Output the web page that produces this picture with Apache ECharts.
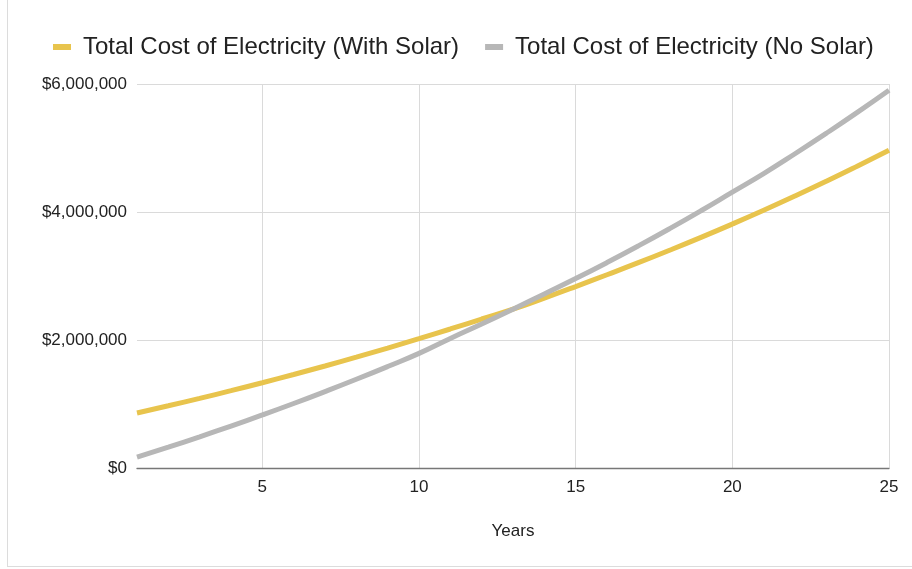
<!DOCTYPE html>
<html>
<head>
<meta charset="utf-8">
<script src="https://cdn.jsdelivr.net/npm/echarts@6/dist/echarts.min.js"></script>
<style>
    html, body { margin: 0; padding: 0; background: #fff; }
    #frame {
        position: absolute; left: 7px; top: -2px; width: 920px; height: 568px;
        border-left: 1px solid #dcdcdc; border-bottom: 1px solid #dcdcdc;
    }
    #chart { position: absolute; left: 0; top: 0; width: 912px; height: 569px; }
</style>
</head>
<body>
<div id="frame"></div>
<div id="chart"></div>
<script>
    // values, in dollars
    const years = [1, 2, 3, 4, 5, 6, 7, 8, 9, 10, 11, 12, 13, 14, 15, 16, 17, 18, 19, 20, 21, 22, 23, 24, 25];
    const withSolar = [860000, 972000, 1088000, 1208000, 1332000, 1461000, 1594000, 1731000, 1874000, 2021000,
        2172000, 2328000, 2482000, 2655000, 2835000, 3020000, 3208000, 3403000, 3604000, 3812000,
        4027000, 4250000, 4481000, 4720000, 4965000];
    const noSolar = [170000, 326000, 488000, 656000, 829000, 1008000, 1194000, 1386000, 1585000, 1791000,
        2025000, 2250000, 2482000, 2720000, 2960000, 3210000, 3470000, 3740000, 4020000, 4310000,
        4600000, 4910000, 5230000, 5560000, 5902000];
    const xTicks = [5, 10, 15, 20, 25];
    const seriesNames = ['Total Cost of Electricity (With Solar)', 'Total Cost of Electricity (No Solar)'];

    const font = '"Liberation Sans", Arial, sans-serif';
    const money = v => '$' + v.toLocaleString('en-US');

    let option = {
        animation: false,
        color: ['#e8c44d', '#b7b7b7'],
        textStyle: { fontFamily: font },
        legend: {
            top: 30,
            left: 48,
            itemWidth: 18,
            itemHeight: 6,
            itemGap: 26,
            icon: 'rect',
            textStyle: { fontSize: 24, color: '#222', fontFamily: font, padding: [0, 0, 0, 7] },
            data: seriesNames
        },
        grid: { left: 137, right: 23, top: 84, bottom: 101 },
        xAxis: {
            type: 'value',
            min: 1,
            max: 25,
            name: 'Years',
            nameLocation: 'middle',
            nameGap: 55,
            nameTextStyle: { fontSize: 17, color: '#222' },
            axisLine: { show: true, onZero: false, lineStyle: { color: '#777', width: 1.3 } },
            axisTick: { show: false, customValues: xTicks },
            axisLabel: { customValues: xTicks, fontSize: 17, color: '#222', margin: 11 },
            splitLine: { show: true, lineStyle: { color: '#dadada', width: 1 } }
        },
        yAxis: {
            type: 'value',
            min: 0,
            max: 6000000,
            interval: 2000000,
            axisLine: { show: false },
            axisTick: { show: false },
            axisLabel: { fontSize: 17, color: '#222', margin: 10, formatter: money },
            splitLine: { lineStyle: { color: '#dadada', width: 1 } }
        },
        series: [
            {
                name: seriesNames[0],
                type: 'line',
                smooth: true,
                showSymbol: false,
                lineStyle: { width: 5 },
                data: years.map((y, i) => [y, withSolar[i]])
            },
            {
                name: seriesNames[1],
                type: 'line',
                smooth: true,
                showSymbol: false,
                lineStyle: { width: 5 },
                data: years.map((y, i) => [y, noSolar[i]])
            }
        ]
    };

    const chart = echarts.init(document.getElementById('chart'));
    chart.setOption(option);
</script>
</body>
</html>
